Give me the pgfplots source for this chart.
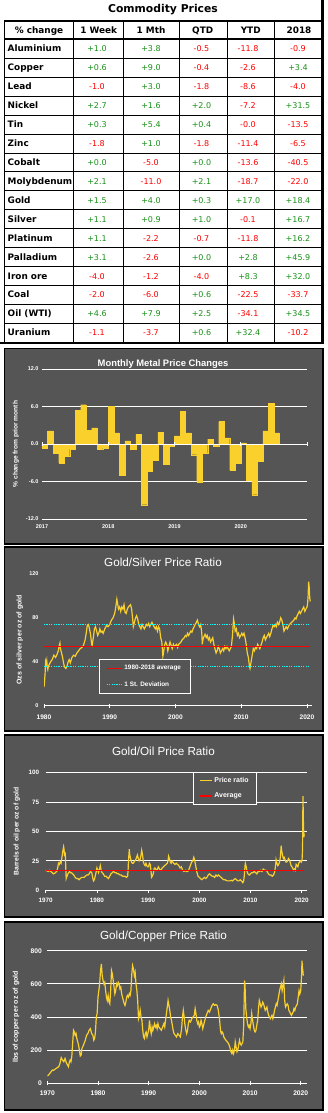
\documentclass[border=0pt]{standalone}
\usepackage{fontspec}
\setmainfont{Liberation Sans}
\newfontfamily\dejavu{DejaVu Sans}
\usepackage{pgfplots}
\pgfplotsset{compat=1.18}
\definecolor{panel}{RGB}{85,85,85}
\definecolor{gold}{RGB}{250,208,45}
\definecolor{posg}{RGB}{25,145,25}
\definecolor{negr}{RGB}{255,0,0}
\definecolor{cyanl}{RGB}{0,255,255}
\def\cvx#1#2\relax{\ifx#1+\textcolor{posg}{#1#2}\else\textcolor{negr}{#1#2}\fi}
\newcommand\cv[1]{\cvx#1\relax}
\newcommand\trow[7]{%
 \pgfmathsetmacro\yy{-(39.3+18.92*(#1+0.5))-3.2}%
 \node[anchor=base west,font=\dejavu\bfseries\fontsize{8.9}{10}\selectfont,inner sep=0pt] at (7.5pt,\yy pt) {#2};
 \node[anchor=base,font=\dejavu\fontsize{8}{10}\selectfont,inner sep=0pt] at (97pt,\yy pt) {\cv{#3}};
 \node[anchor=base,font=\dejavu\fontsize{8}{10}\selectfont,inner sep=0pt] at (151pt,\yy pt) {\cv{#4}};
 \node[anchor=base,font=\dejavu\fontsize{8}{10}\selectfont,inner sep=0pt] at (201.5pt,\yy pt) {\cv{#5}};
 \node[anchor=base,font=\dejavu\fontsize{8}{10}\selectfont,inner sep=0pt] at (248pt,\yy pt) {\cv{#6}};
 \node[anchor=base,font=\dejavu\fontsize{8}{10}\selectfont,inner sep=0pt] at (298pt,\yy pt) {\cv{#7}};
}
\pgfplotsset{
 darkax/.style={anchor=south west, scale only axis,
  /pgf/number format/assume math mode=true,
  x axis line style={white,line width=0.9pt,-},
  y axis line style={draw=none},
  xtick style={white,line width=0.6pt}, ytick style={draw=none},
  grid style={white,line width=0.9pt},
  ticklabel style={text=white},
  ylabel style={anchor=center,text=white},
 },
 lineleg/.style={legend image code/.code={\draw[##1,line width=1.4pt] (0pt,0pt) -- (#1,0pt);}},
}
\begin{document}
\begin{tikzpicture}
\useasboundingbox[fill=white] (0pt,0pt) rectangle (327pt,-1113pt);
% ---------------- table ----------------
\node[font=\dejavu\bfseries\fontsize{10.8}{12}\selectfont] at (163pt,-10pt) {Commodity Prices};
\foreach \i in {1,...,15} \draw[line width=0.6pt] (4pt,{-(39.3+18.92*\i)*1pt}) -- (322pt,{-(39.3+18.92*\i)*1pt});
\foreach \x in {73,123,179,227,274} \draw[line width=0.7pt] (\x pt,-20.7pt) -- (\x pt,-343pt);
\draw[line width=0.7pt] (4pt,-20.7pt) -- (4pt,-343pt);
\draw[line width=2pt] (4pt,-20.7pt) -- (322pt,-20.7pt);
\draw[line width=1.6pt] (4pt,-39.3pt) -- (322pt,-39.3pt);
\draw[line width=3.5pt] (322.5pt,0pt) -- (322.5pt,-344pt);
\draw[line width=2.6pt] (0pt,-343pt) -- (324.2pt,-343pt);
\foreach \x/\t in {39/{\% change},98.7/{1 Week},151/{1 Mth},202.7/{QTD},250.7/{YTD},299/{2018}}
  \node[anchor=base,inner sep=0pt,font=\dejavu\bfseries\fontsize{8.9}{10}\selectfont] at (\x pt,-33.2pt) {\t};
\trow{0}{Aluminium}{+1.0}{+3.8}{-0.5}{-11.8}{-0.9}
\trow{1}{Copper}{+0.6}{+9.0}{-0.4}{-2.6}{+3.4}
\trow{2}{Lead}{-1.0}{+3.0}{-1.8}{-8.6}{-4.0}
\trow{3}{Nickel}{+2.7}{+1.6}{+2.0}{-7.2}{+31.5}
\trow{4}{Tin}{+0.3}{+5.4}{+0.4}{-0.0}{-13.5}
\trow{5}{Zinc}{-1.8}{+1.0}{-1.8}{-11.4}{-6.5}
\trow{6}{Cobalt}{+0.0}{-5.0}{+0.0}{-13.6}{-40.5}
\trow{7}{Molybdenum}{+2.1}{-11.0}{+2.1}{-18.7}{-22.0}
\trow{8}{Gold}{+1.5}{+4.0}{+0.3}{+17.0}{+18.4}
\trow{9}{Silver}{+1.1}{+0.9}{+1.0}{-0.1}{+16.7}
\trow{10}{Platinum}{+1.1}{-2.2}{-0.7}{-11.8}{+16.2}
\trow{11}{Palladium}{+3.1}{-2.6}{+0.0}{+2.8}{+45.9}
\trow{12}{Iron ore}{-4.0}{-1.2}{-4.0}{+8.3}{+32.0}
\trow{13}{Coal}{-2.0}{-6.0}{+0.6}{-22.5}{-33.7}
\trow{14}{Oil (WTI)}{+4.6}{+7.9}{+2.5}{-34.1}{+34.5}
\trow{15}{Uranium}{-1.1}{-3.7}{+0.6}{+32.4}{-10.2}
% ---------------- panels ----------------
\filldraw[fill=panel,draw=black,line width=1.6pt] (4.5pt,-348.5pt) rectangle (323pt,-544pt);
\filldraw[fill=panel,draw=black,line width=1.6pt] (4.5pt,-547pt) rectangle (323pt,-731pt);
\filldraw[fill=panel,draw=black,line width=1.6pt] (4.5pt,-735pt) rectangle (323pt,-917pt);
\filldraw[fill=panel,draw=black,line width=1.6pt] (4.5pt,-922pt) rectangle (323pt,-1110pt);
% ---------------- chart 1 ----------------
\begin{axis}[darkax, at={(42pt,-519pt)}, width=265pt, height=150pt,
 xmin=0, xmax=48, ymin=-12, ymax=12,
 axis line style={draw=none}, major tick length=0pt,
 ytick={-12,-6,0,6,12}, yticklabels={-12.0,-6.0,0.0,6.0,12.0},
 xtick={0,12,24,36}, xticklabels={2017,2018,2019,2020},
 ymajorgrids,
 ticklabel style={font=\bfseries\fontsize{5.5}{6}\selectfont},
 xticklabel style={yshift=-2pt},
 ylabel={\% change from prior month},
 ylabel style={at={(axis description cs:-0.098,0.5)},font=\bfseries\fontsize{6.6}{7}\selectfont}]
\addplot[ybar,bar width=1,fill=gold,draw=gold,line width=0.1pt] coordinates {
(0.5,-0.6)(1.5,2.1)(2.5,-1.4)(3.5,-3.0)(4.5,-1.9)(5.5,-0.8)(6.5,5.4)(7.5,6.3)(8.5,2.2)(9.5,2.6)(10.5,-0.8)(11.5,-0.6)
(12.5,6.0)(13.5,1.8)(14.5,-5.0)(15.5,0.5)(16.5,-0.8)(17.5,1.6)(18.5,-9.7)(19.5,-4.4)(20.5,-2.6)(21.5,1.9)(22.5,-3.2)(23.5,-0.4)
(24.5,1.3)(25.5,5.2)(26.5,1.8)(27.5,-1.7)(28.5,-6.1)(29.5,-1.4)(30.5,0.8)(31.5,-0.3)(32.5,3.6)(33.5,1.0)(34.5,-4.2)(35.5,-3.0)
(36.5,0.2)(37.5,-5.8)(38.5,-8.1)(39.5,-2.8)(40.5,2.1)(41.5,6.5)(42.5,1.8)};
\end{axis}
\begin{axis}[anchor=south west, scale only axis, at={(42pt,-519pt)}, width=265pt, height=150pt,
 xmin=0, xmax=48, ymin=-12, ymax=12, axis x line=middle, axis y line=none, ytick=\empty,
 xtick={0,12,24,36,48}, xticklabels={}, x axis line style={white,line width=0.9pt,-},
 xtick style={white,line width=0.6pt}, tick align=center, major tick length=4pt]
\addplot[draw=none] coordinates {(0,0)};
\end{axis}
% ---------------- chart 2 ----------------
\begin{axis}[darkax, at={(44pt,-705.7pt)}, width=267.6pt, height=131.7pt,
 xmin=1980, xmax=2020.7, ymin=0, ymax=120,
 axis x line*=bottom, axis y line*=left,
 xtick={1980,1990,2000,2010,2020}, xticklabels={1980,1990,2000,2010,2020},
 ytick={0,40,80,120}, tick align=center, major tick length=4pt,
 xticklabel style={font=\bfseries\fontsize{6.6}{7}\selectfont,yshift=-4pt},
 yticklabel style={font=\bfseries\fontsize{5.5}{6}\selectfont},
 ylabel={Ozs of silver per oz of gold},
 ylabel style={at={(axis description cs:-0.09,0.5)},font=\bfseries\fontsize{7}{8}\selectfont},
 lineleg=15pt,
 legend style={at={(axis description cs:0.204,0.355)},anchor=north west,fill=panel,draw=white,line width=0.9pt,
   text=white,font=\bfseries\fontsize{6.4}{7}\selectfont,inner xsep=7pt,inner ysep=4pt,row sep=6pt,
   cells={anchor=west}},
 legend cell align=left]
\addplot[gold,line width=1.2pt,forget plot] coordinates {
(1980.00,17)(1980.08,22)(1980.17,30)(1980.25,40)(1980.33,38)(1980.42,41)(1980.50,35)(1980.58,33)(1980.67,36)(1980.83,38)
(1981.00,40)(1981.25,42)(1981.50,46)(1981.75,44)(1982.00,47)(1982.17,50)(1982.33,55)(1982.42,57)(1982.50,52)(1982.67,48)
(1982.83,44)(1983.00,38)(1983.17,35)(1983.33,34)(1983.50,36)(1983.67,40)(1983.83,42)(1984.00,39)(1984.25,44)(1984.50,46)
(1984.75,45)(1985.00,48)(1985.25,50)(1985.50,52)(1985.75,53)(1986.00,55)(1986.25,60)(1986.42,66)(1986.58,73)(1986.75,74)
(1986.92,70)(1987.08,65)(1987.25,56)(1987.33,55)(1987.50,62)(1987.67,70)(1987.83,72)(1988.00,68)(1988.17,64)(1988.33,66)
(1988.50,70)(1988.67,67)(1988.83,68)(1989.00,66)(1989.25,70)(1989.50,73)(1989.75,72)(1990.00,74)(1990.25,78)(1990.50,80)
(1990.75,84)(1990.92,90)(1991.08,97)(1991.17,94)(1991.33,88)(1991.50,90)(1991.67,86)(1991.83,90)(1992.00,88)(1992.17,92)
(1992.33,85)(1992.50,84)(1992.67,88)(1992.83,90)(1993.00,91)(1993.17,92)(1993.33,88)(1993.50,78)(1993.58,72)(1993.75,76)
(1993.92,80)(1994.08,82)(1994.25,79)(1994.42,74)(1994.58,72)(1994.75,70)(1994.92,74)(1995.08,72)(1995.25,70)(1995.42,72)
(1995.58,74)(1995.75,73)(1995.92,75)(1996.08,72)(1996.25,74)(1996.42,76)(1996.58,74)(1996.75,72)(1996.92,70)(1997.08,72)
(1997.25,68)(1997.42,72)(1997.58,70)(1997.75,62)(1997.92,58)(1998.00,52)(1998.08,45)(1998.17,48)(1998.33,55)(1998.50,58)
(1998.67,56)(1998.83,50)(1999.00,54)(1999.17,58)(1999.33,55)(1999.50,52)(1999.67,56)(1999.83,54)(2000.00,55)(2000.17,56)
(2000.33,53)(2000.50,56)(2000.67,57)(2000.83,58)(2001.00,60)(2001.17,61)(2001.33,62)(2001.50,64)(2001.67,63)(2001.83,66)
(2002.00,64)(2002.17,66)(2002.33,68)(2002.50,67)(2002.67,70)(2002.83,72)(2003.00,74)(2003.17,76)(2003.33,78)(2003.50,74)
(2003.67,72)(2003.83,74)(2004.00,66)(2004.08,56)(2004.17,60)(2004.33,63)(2004.50,65)(2004.67,62)(2004.83,64)(2005.00,60)
(2005.17,62)(2005.33,58)(2005.50,60)(2005.67,62)(2005.83,56)(2006.00,52)(2006.17,48)(2006.33,50)(2006.50,54)(2006.67,52)
(2006.83,48)(2007.00,50)(2007.17,52)(2007.33,50)(2007.50,54)(2007.67,52)(2007.83,54)(2008.00,52)(2008.17,50)(2008.33,52)
(2008.50,54)(2008.67,64)(2008.83,79)(2008.92,76)(2009.08,68)(2009.25,70)(2009.42,64)(2009.58,66)(2009.75,62)(2009.92,64)
(2010.08,66)(2010.25,64)(2010.42,66)(2010.58,62)(2010.75,56)(2010.92,48)(2011.08,44)(2011.25,36)(2011.33,34)(2011.50,40)
(2011.67,46)(2011.83,52)(2012.00,50)(2012.17,53)(2012.33,52)(2012.50,56)(2012.67,54)(2012.83,52)(2013.00,55)(2013.17,58)
(2013.33,62)(2013.50,64)(2013.67,60)(2013.83,62)(2014.00,64)(2014.17,66)(2014.33,63)(2014.50,66)(2014.67,70)(2014.83,73)
(2015.00,72)(2015.17,74)(2015.33,72)(2015.50,76)(2015.67,74)(2015.83,76)(2016.00,80)(2016.17,78)(2016.33,74)(2016.50,68)
(2016.67,70)(2016.83,72)(2017.00,70)(2017.17,72)(2017.33,74)(2017.50,75)(2017.67,76)(2017.83,77)(2018.00,78)(2018.17,80)
(2018.33,79)(2018.50,82)(2018.67,84)(2018.83,86)(2019.00,84)(2019.17,86)(2019.33,88)(2019.50,90)(2019.67,86)(2019.83,88)
(2020.00,90)(2020.08,92)(2020.17,100)(2020.25,113)(2020.33,108)(2020.42,98)(2020.50,95)};
\addplot[negr,line width=1.2pt] coordinates {(1980,54)(2020.5,54)};
\addplot[cyanl,line width=1pt,dash pattern=on 1.2pt off 1.2pt] coordinates {(1980,74)(2020.5,74)};
\addplot[cyanl,line width=1pt,dash pattern=on 1.2pt off 1.2pt,forget plot] coordinates {(1980,36)(2020.5,36)};
\legend{1980-2018 average,1 St. Deviation}
\end{axis}
% ---------------- chart 3 ----------------
\begin{axis}[darkax, at={(45.7pt,-890.3pt)}, width=261.1pt, height=117.7pt,
 xmin=1970, xmax=2021, ymin=0, ymax=100,
 axis x line*=bottom, axis y line*=left, ymajorgrids,
 xtick={1970,1980,1990,2000,2010,2020}, xticklabels={1970,1980,1990,2000,2010,2020},
 ytick={0,25,50,75,100}, tick align=outside, major tick length=3pt,
 xticklabel style={font=\bfseries\fontsize{6.3}{7}\selectfont,yshift=-1pt},
 yticklabel style={font=\bfseries\fontsize{6.3}{7}\selectfont},
 ylabel={Barrels of oil per oz of gold},
 ylabel style={at={(axis description cs:-0.11,0.5)},font=\bfseries\fontsize{6.8}{8}\selectfont},
 lineleg=11.6pt,
 legend style={at={(axis description cs:0.564,1.008)},anchor=north west,fill=panel,draw=white,line width=0.9pt,
   text=white,font=\bfseries\fontsize{7}{8}\selectfont,inner xsep=6pt,inner ysep=3pt,row sep=5pt,
   cells={anchor=west}},
 legend cell align=left]
\addplot[gold,line width=1.2pt] coordinates {
(1970.00,17)(1970.25,16.5)(1970.50,16)(1970.75,17)(1971.00,16)(1971.25,15)(1971.50,14)(1971.75,14.5)(1972.00,15.5)(1972.17,16)
(1972.33,19)(1972.50,23)(1972.67,22)(1972.83,24)(1973.00,23)(1973.17,28)(1973.33,33)(1973.50,37)(1973.58,35)(1973.67,30)
(1973.83,31)(1973.92,20)(1974.00,10)(1974.17,12)(1974.33,14)(1974.50,15)(1974.67,16)(1974.83,15)(1975.00,15)(1975.25,14)
(1975.50,13)(1975.75,11)(1976.00,10)(1976.25,10)(1976.50,9)(1976.75,10)(1977.00,11)(1977.25,11)(1977.50,11)(1977.75,12)
(1978.00,13)(1978.25,13)(1978.50,14)(1978.75,16)(1979.00,15)(1979.17,11)(1979.33,8)(1979.50,9)(1979.67,12)(1979.83,15)
(1980.00,19)(1980.17,17)(1980.33,15)(1980.50,18)(1980.67,21)(1980.83,17)(1981.00,15)(1981.25,14)(1981.50,12)(1981.75,12)
(1982.00,11)(1982.25,10)(1982.50,12)(1982.75,14)(1983.00,15)(1983.25,16)(1983.50,15)(1983.75,15)(1984.00,14)(1984.25,14)
(1984.50,13)(1984.75,13)(1985.00,12)(1985.25,12)(1985.50,12)(1985.75,11)(1986.00,12)(1986.08,16)(1986.17,25)(1986.25,30)
(1986.33,35)(1986.42,30)(1986.58,27)(1986.75,24)(1986.92,23)(1987.08,23)(1987.25,24)(1987.42,25)(1987.58,26)(1987.75,28)
(1987.92,30)(1988.08,27)(1988.25,25)(1988.42,26)(1988.58,29)(1988.75,34)(1988.92,30)(1989.08,24)(1989.25,22)(1989.42,21)
(1989.58,23)(1989.75,21)(1989.92,20)(1990.08,20)(1990.25,23)(1990.42,22)(1990.58,16)(1990.67,11)(1990.83,12)(1991.00,14)
(1991.17,18)(1991.33,19)(1991.50,18)(1991.67,17)(1991.83,18)(1992.00,20)(1992.25,18)(1992.50,17)(1992.75,19)(1993.00,20)
(1993.25,21)(1993.50,22)(1993.75,23)(1993.92,26)(1994.00,29)(1994.17,27)(1994.33,24)(1994.50,23)(1994.67,25)(1994.83,24)
(1995.00,23)(1995.25,22)(1995.50,23)(1995.75,22)(1996.00,21)(1996.25,19)(1996.50,20)(1996.75,17)(1997.00,16)(1997.25,17)
(1997.50,16)(1997.75,16)(1998.00,18)(1998.25,21)(1998.50,24)(1998.75,25)(1998.92,28)(1999.08,26)(1999.25,22)(1999.50,16)
(1999.75,12)(2000.00,11)(2000.25,10)(2000.50,9)(2000.75,10)(2001.00,11)(2001.25,10)(2001.50,11)(2001.75,13)(2002.00,14)
(2002.25,13)(2002.50,12)(2002.75,12)(2003.00,11)(2003.25,13)(2003.50,12)(2003.75,13)(2004.00,12)(2004.25,11)(2004.50,10)
(2004.75,9)(2005.00,9)(2005.25,8.5)(2005.50,8)(2005.75,8)(2006.00,8)(2006.25,8.5)(2006.50,8)(2006.75,9)(2007.00,10)
(2007.25,9)(2007.50,8)(2007.75,8)(2008.00,9)(2008.25,8)(2008.50,6.5)(2008.67,8)(2008.83,14)(2008.92,20)(2009.00,23)
(2009.17,20)(2009.33,16)(2009.50,14)(2009.75,13)(2010.00,14)(2010.25,15)(2010.50,15)(2010.75,16)(2011.00,15)(2011.25,14)
(2011.50,16)(2011.75,16)(2012.00,17)(2012.25,16)(2012.50,18)(2012.75,17)(2013.00,17)(2013.25,16)(2013.50,14)(2013.75,13)
(2014.00,13)(2014.25,12)(2014.50,13)(2014.75,16)(2014.92,22)(2015.00,26)(2015.17,23)(2015.33,21)(2015.50,22)(2015.67,24)
(2015.83,28)(2016.00,38)(2016.08,34)(2016.25,30)(2016.42,27)(2016.58,28)(2016.75,26)(2016.92,24)(2017.08,24)(2017.25,25)
(2017.42,27)(2017.58,26)(2017.75,24)(2017.92,21)(2018.08,20)(2018.25,19)(2018.42,17)(2018.58,18)(2018.75,17)(2018.92,22)
(2019.08,21)(2019.25,20)(2019.42,23)(2019.58,24)(2019.75,25)(2019.92,24)(2020.08,26)(2020.17,35)(2020.25,80)(2020.33,60)
(2020.42,45)(2020.50,48)};
\addplot[negr,line width=1.2pt] coordinates {(1970,17)(2020.5,17)};
\legend{Price ratio,Average}
\end{axis}
% ---------------- chart 4 ----------------
\begin{axis}[darkax, at={(47.3pt,-1083.3pt)}, width=259.5pt, height=132.6pt,
 xmin=1970, xmax=2021.2, ymin=0, ymax=800,
 axis x line*=bottom, axis y line*=left, ymajorgrids,
 xtick={1970,1980,1990,2000,2010,2020}, xticklabels={1970,1980,1990,2000,2010,2020},
 ytick={0,200,400,600,800}, tick align=center, major tick length=4pt,
 xticklabel style={font=\bfseries\fontsize{6.7}{7}\selectfont,yshift=-2pt},
 yticklabel style={font=\bfseries\fontsize{6.7}{7}\selectfont},
 ylabel={lbs of copper per oz of gold},
 ylabel style={at={(axis description cs:-0.12,0.5)},font=\bfseries\fontsize{7}{8}\selectfont}]
\addplot[gold,line width=1.2pt] coordinates {
(1970.00,45)(1970.25,50)(1970.50,60)(1970.75,70)(1971.00,80)(1971.25,78)(1971.50,85)(1971.75,90)(1972.00,95)(1972.25,100)
(1972.50,120)(1972.75,155)(1973.00,140)(1973.25,130)(1973.50,150)(1973.75,125)(1974.00,110)(1974.17,100)(1974.33,125)(1974.50,140)
(1974.67,130)(1974.83,160)(1975.00,240)(1975.17,320)(1975.33,310)(1975.50,290)(1975.67,300)(1975.83,270)(1976.00,250)(1976.17,230)
(1976.33,200)(1976.50,165)(1976.67,170)(1976.83,210)(1977.00,220)(1977.25,240)(1977.50,260)(1977.75,290)(1978.00,300)(1978.25,320)
(1978.50,330)(1978.75,300)(1979.00,290)(1979.17,260)(1979.33,270)(1979.50,310)(1979.67,400)(1979.83,420)(1980.00,520)(1980.17,560)
(1980.33,600)(1980.50,680)(1980.67,720)(1980.83,650)(1981.00,620)(1981.17,600)(1981.33,610)(1981.50,560)(1981.67,520)(1981.83,500)
(1982.00,530)(1982.17,490)(1982.33,480)(1982.50,560)(1982.67,680)(1982.83,660)(1983.00,620)(1983.17,580)(1983.33,540)(1983.50,560)
(1983.67,600)(1983.83,590)(1984.00,610)(1984.17,600)(1984.33,570)(1984.50,580)(1984.67,540)(1984.83,520)(1985.00,500)(1985.17,480)
(1985.33,470)(1985.50,490)(1985.67,520)(1985.83,530)(1986.00,520)(1986.17,540)(1986.33,530)(1986.50,560)(1986.67,660)(1986.83,710)
(1987.00,690)(1987.17,650)(1987.33,670)(1987.50,600)(1987.67,560)(1987.83,500)(1988.00,390)(1988.17,410)(1988.33,440)(1988.50,400)
(1988.67,380)(1988.83,320)(1989.00,280)(1989.17,270)(1989.33,300)(1989.50,310)(1989.67,280)(1989.83,300)(1990.00,320)(1990.17,380)
(1990.33,330)(1990.50,300)(1990.67,340)(1990.83,320)(1991.00,340)(1991.17,360)(1991.33,340)(1991.50,350)(1991.67,330)(1991.83,360)
(1992.00,340)(1992.25,330)(1992.50,320)(1992.75,340)(1993.00,360)(1993.17,340)(1993.33,380)(1993.50,420)(1993.67,460)(1993.83,500)
(1994.00,470)(1994.17,440)(1994.33,400)(1994.50,380)(1994.67,350)(1994.83,320)(1995.00,300)(1995.25,290)(1995.50,280)(1995.75,300)
(1996.00,290)(1996.25,280)(1996.50,330)(1996.67,400)(1996.83,440)(1997.00,400)(1997.17,350)(1997.33,320)(1997.50,300)(1997.67,320)
(1997.83,360)(1998.00,380)(1998.25,370)(1998.50,390)(1998.75,400)(1999.00,410)(1999.17,450)(1999.33,420)(1999.50,380)(1999.67,360)
(1999.83,370)(2000.00,340)(2000.17,350)(2000.33,380)(2000.50,360)(2000.67,330)(2000.83,350)(2001.00,370)(2001.25,400)(2001.50,420)
(2001.75,440)(2002.00,430)(2002.25,450)(2002.50,470)(2002.75,480)(2003.00,470)(2003.25,475)(2003.50,470)(2003.75,440)(2004.00,380)
(2004.17,320)(2004.33,300)(2004.50,310)(2004.67,300)(2004.83,280)(2005.00,270)(2005.25,260)(2005.50,250)(2005.75,240)(2006.00,220)
(2006.25,190)(2006.42,180)(2006.58,200)(2006.75,180)(2006.92,200)(2007.08,250)(2007.25,220)(2007.42,190)(2007.58,200)(2007.75,230)
(2007.92,260)(2008.08,240)(2008.25,230)(2008.42,240)(2008.58,250)(2008.75,350)(2008.92,620)(2009.00,600)(2009.17,450)(2009.33,400)
(2009.50,360)(2009.67,340)(2009.83,350)(2010.00,330)(2010.17,360)(2010.33,420)(2010.50,380)(2010.67,350)(2010.83,320)(2011.00,310)
(2011.17,320)(2011.33,350)(2011.50,380)(2011.67,450)(2011.83,500)(2012.00,480)(2012.17,460)(2012.33,470)(2012.50,490)(2012.67,480)
(2012.83,460)(2013.00,440)(2013.17,450)(2013.33,460)(2013.50,430)(2013.67,410)(2013.83,400)(2014.00,390)(2014.17,400)(2014.33,410)
(2014.50,390)(2014.67,410)(2014.83,440)(2015.00,460)(2015.17,480)(2015.33,470)(2015.50,500)(2015.67,530)(2015.83,560)(2016.00,580)
(2016.17,600)(2016.33,560)(2016.50,590)(2016.67,620)(2016.83,500)(2017.00,460)(2017.17,470)(2017.33,480)(2017.50,470)(2017.67,440)
(2017.83,430)(2018.00,420)(2018.17,410)(2018.33,420)(2018.50,430)(2018.67,450)(2018.83,440)(2019.00,460)(2019.17,470)(2019.33,480)
(2019.50,520)(2019.67,560)(2019.83,540)(2020.00,560)(2020.17,650)(2020.25,740)(2020.33,700)(2020.42,680)(2020.50,650)};
\end{axis}
% ---------------- titles ----------------
\node[text=white,font=\bfseries\fontsize{9.4}{11}\selectfont] at (163pt,-364pt) {Monthly Metal Price Changes};
\node[text=white,font=\fontsize{11.7}{14}\selectfont] at (163pt,-562pt) {Gold/Silver Price Ratio};
\node[text=white,font=\fontsize{11.7}{14}\selectfont] at (163.5pt,-751pt) {Gold/Oil Price Ratio};
\node[text=white,font=\fontsize{11.7}{14}\selectfont] at (163.5pt,-936.7pt) {Gold/Copper Price Ratio};
\end{tikzpicture}
\end{document}
